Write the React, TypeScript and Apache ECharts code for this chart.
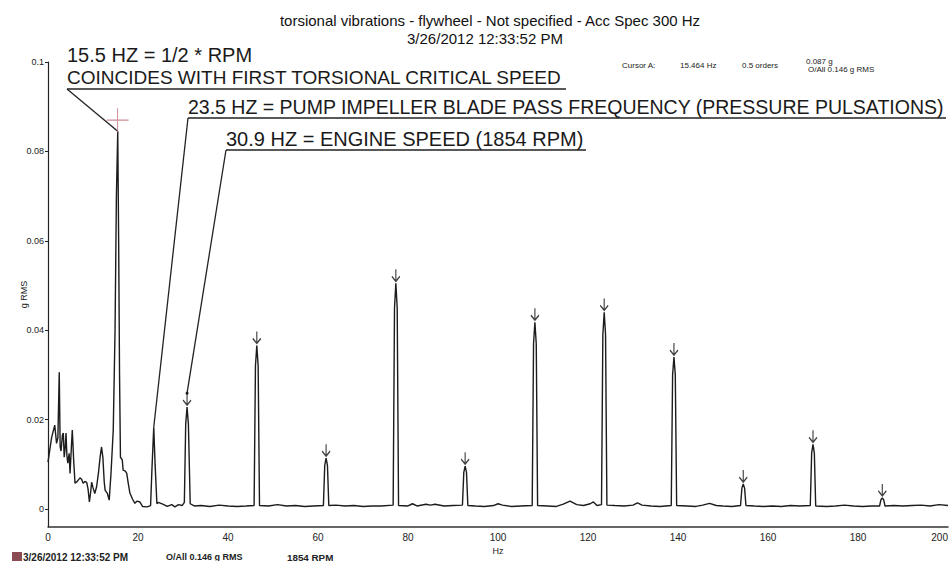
import React, { useEffect, useRef } from "react";
import * as echarts from "echarts";

// Spectrum (Hz, g RMS)
const freqs = [
  0, 0.8, 1.5, 1.9, 2.2, 2.5, 2.7, 2.9, 3.2, 3.4, 3.6, 3.8, 4.0, 4.2, 4.4, 4.7, 4.9, 5.2, 5.4, 5.7,
  6.0, 6.5, 7.1, 7.5, 7.8, 8.2, 8.6, 8.9, 9.2, 9.5, 9.7, 10.0, 10.4, 10.8, 11.2, 11.6, 11.9, 12.2, 12.5, 12.7,
  13.2, 13.6, 14.0, 14.5, 14.9, 15.2, 15.5, 15.7, 15.9, 16.1, 16.5, 16.7, 17.2, 17.5, 17.8, 18.2, 18.8, 19.3, 19.8, 20.4,
  21.0, 22.0, 22.8, 23.1, 23.5, 23.8, 24.2, 24.5, 25.5, 26.5, 27.5, 28.2, 29.0, 29.8, 30.3, 30.6, 30.9, 31.2, 31.6, 32.5,
  34, 36, 38, 40, 42, 44, 45.8, 46.1, 46.4, 46.7, 47.0, 49, 51, 53, 55, 57, 59, 61.2, 61.5, 61.8,
  62.1, 62.4, 64, 66, 68, 70, 72, 74, 76.7, 77.0, 77.3, 77.6, 77.9, 80, 81, 82, 84, 85, 86, 88,
  90, 92.1, 92.4, 92.7, 93.0, 93.3, 95, 97, 99, 100, 101, 103, 105, 107.6, 107.9, 108.2, 108.5, 108.8, 111, 113,
  114.5, 116, 117.5, 119, 120.5, 121.2, 122, 123.0, 123.3, 123.6, 123.9, 124.2, 126, 128, 130, 131, 132, 134, 136, 138.5,
  138.8, 139.1, 139.4, 139.7, 142, 144, 145.5, 147, 148.5, 150, 152, 153.9, 154.2, 154.5, 154.8, 155.1, 157, 159, 161, 163,
  165, 167, 169.4, 169.7, 170.0, 170.3, 170.6, 173, 175, 177, 179, 181, 183, 184.8, 185.1, 185.4, 185.7, 186.0, 188, 190,
  192, 194, 196, 198, 200,
];
const amps = [
  0.0105, 0.016, 0.0188, 0.0147, 0.016, 0.0306, 0.014, 0.013, 0.0165, 0.017, 0.0116, 0.0135, 0.017, 0.012, 0.0103, 0.0125, 0.008, 0.014, 0.0177, 0.011,
  0.0058, 0.0062, 0.007, 0.0066, 0.0058, 0.0062, 0.006, 0.0045, 0.0016, 0.004, 0.006, 0.0048, 0.0035, 0.005, 0.008, 0.0118, 0.0139, 0.0115, 0.006, 0.0042,
  0.0035, 0.002, 0.008, 0.0177, 0.04, 0.07, 0.0845, 0.06, 0.03, 0.0116, 0.011, 0.0087, 0.0085, 0.008, 0.006, 0.0036, 0.0022, 0.0013, 0.0018, 0.0016,
  0.0006, 0.0005, 0.0008, 0.009, 0.0183, 0.01, 0.0012, 0.0015, 0.0011, 0.0006, 0.001, 0.0005, 0.001, 0.0008, 0.0015, 0.019, 0.0228, 0.019, 0.0012, 0.0007,
  0.0008, 0.0006, 0.0009, 0.0007, 0.0006, 0.0007, 0.0008, 0.032, 0.0366, 0.032, 0.0008, 0.0007, 0.001, 0.0007, 0.0008, 0.0006, 0.0007, 0.0008, 0.0098, 0.0114,
  0.0098, 0.0008, 0.0009, 0.0007, 0.0008, 0.0006, 0.0007, 0.0007, 0.0009, 0.045, 0.0505, 0.045, 0.0008, 0.0007, 0.0012, 0.0007, 0.0011, 0.0009, 0.0011, 0.0007,
  0.0008, 0.0009, 0.0082, 0.0096, 0.0082, 0.0008, 0.0007, 0.0006, 0.0008, 0.0012, 0.0009, 0.0006, 0.0007, 0.0008, 0.037, 0.0418, 0.037, 0.0008, 0.0007, 0.0006,
  0.0011, 0.0018, 0.001, 0.0008, 0.0012, 0.0016, 0.0008, 0.001, 0.039, 0.044, 0.039, 0.0009, 0.0008, 0.0007, 0.0009, 0.0014, 0.0009, 0.0007, 0.0006, 0.0008,
  0.03, 0.034, 0.03, 0.0008, 0.0007, 0.0006, 0.0009, 0.0013, 0.0008, 0.0007, 0.0006, 0.0008, 0.0047, 0.0056, 0.0047, 0.0008, 0.0007, 0.0006, 0.0007, 0.0006,
  0.0008, 0.0007, 0.0008, 0.0125, 0.0145, 0.0125, 0.0007, 0.0006, 0.0007, 0.0009, 0.0007, 0.0006, 0.0007, 0.0007, 0.0021, 0.0025, 0.0021, 0.0007, 0.0008, 0.0007,
  0.0008, 0.0009, 0.0007, 0.001, 0.0008,
];

// Harmonics of engine speed marked with arrows
const harmonicHz = [30.9, 46.4, 61.8, 77.3, 92.7, 108.2, 123.6, 139.1, 154.5, 170.0, 185.4];
const harmonicAmp = [0.0228, 0.0366, 0.0114, 0.0505, 0.0096, 0.0418, 0.044, 0.034, 0.0056, 0.0145, 0.0025];

// Annotated peaks
const noteHz = [15.5, 23.5, 30.9];
const noteAmp = [0.0845, 0.0183, 0.0228];

const cursorHz = 15.464;
const cursorG = 0.087;

const yTicks = [0, 0.02, 0.04, 0.06, 0.08, 0.1];

const FONT = '"Liberation Sans", Arial, sans-serif';

export default function App() {
  const ref = useRef<HTMLDivElement>(null);
  useEffect(() => {
    if (!ref.current) return;
    const chart = echarts.init(ref.current, undefined, { renderer: "svg" });
    const line = freqs.map((f, i) => [f, amps[i]]);
    chart.setOption({
      animation: false,
      backgroundColor: "#ffffff",
      textStyle: { fontFamily: FONT },
      grid: { left: 48, right: 4, top: 62, bottom: 34, outerBoundsMode: "none", containLabel: false },
      xAxis: {
        type: "value",
        min: 0,
        max: 200,
        interval: 20,
        name: "Hz",
        nameLocation: "middle",
        nameGap: 12,
        nameTextStyle: { fontSize: 9, color: "#222", fontFamily: FONT },
        axisLine: { onZero: false, lineStyle: { color: "#333", width: 1.5 } },
        axisTick: { show: false },
        axisLabel: { fontSize: 10, color: "#222", margin: 5, fontFamily: FONT, alignMaxLabel: "right" },
        splitLine: { show: false },
      },
      yAxis: {
        type: "value",
        min: -0.004,
        max: 0.1,
        name: "g RMS",
        nameLocation: "middle",
        nameGap: 20,
        nameMoveOverlap: false,
        nameTextStyle: { fontSize: 9, color: "#222", fontFamily: FONT },
        axisLine: { show: true, lineStyle: { color: "#222", width: 1.2 } },
        axisTick: { show: true, length: 3, customValues: yTicks, lineStyle: { color: "#222" } },
        axisLabel: {
          customValues: yTicks,
          fontSize: 9,
          color: "#222",
          margin: 4,
          fontFamily: FONT,
          formatter: (v: number) => String(Math.round(v * 100) / 100),
        },
        splitLine: { show: false },
      },
      series: [
        {
          type: "line",
          data: line,
          symbol: "none",
          lineStyle: { color: "#1c1c1c", width: 1.4 },
          z: 2,
        },
        {
          type: "scatter",
          data: harmonicHz.map((f, i) => [f, harmonicAmp[i]]),
          symbol: "path://M4,0 L4,12 M0,7 L4,12 L8,7",
          symbolSize: [8, 12],
          symbolOffset: [0, -8],
          itemStyle: { color: "rgba(0,0,0,0)", borderColor: "#111", borderWidth: 1.4 },
          z: 3,
        },
        {
          type: "scatter",
          data: [[cursorHz, cursorG]],
          symbol: "path://M0,10 L20,10 M10,0 L10,20",
          symbolSize: [22, 24],
          itemStyle: { color: "rgba(0,0,0,0)", borderColor: "#c0707c", borderWidth: 1 },
          z: 4,
        },
      ],
    });

    const p = noteHz.map((f, i) => chart.convertToPixel({ gridIndex: 0 }, [f, noteAmp[i]]) as number[]);
    const big = { fontSize: 20, fontFamily: FONT, fill: "#1a1a1a" };
    const small = { fontSize: 8, fontFamily: FONT, fill: "#222" };
    const foot = { fontWeight: "bold", fontFamily: FONT, fill: "#222", verticalAlign: "middle" };
    chart.setOption({
      graphic: [
        { type: "text", x: 490, y: 20, style: { text: "torsional vibrations - flywheel - Not specified - Acc Spec 300 Hz", fontSize: 15, fontFamily: FONT, fill: "#111", align: "center", verticalAlign: "middle" } },
        { type: "text", x: 485, y: 38, style: { text: "3/26/2012 12:33:52 PM", fontSize: 15, fontFamily: FONT, fill: "#111", align: "center", verticalAlign: "middle" } },
        { type: "text", x: 67, y: 55, style: { ...big, text: "15.5 HZ = 1/2 * RPM", verticalAlign: "middle" } },
        { type: "text", x: 67, y: 77, style: { ...big, fontSize: 19, text: "COINCIDES WITH FIRST TORSIONAL CRITICAL SPEED", verticalAlign: "middle" } },
        { type: "line", shape: { x1: 67, y1: 89, x2: 566, y2: 89 }, style: { stroke: "#222", lineWidth: 1.5 } },
        { type: "line", shape: { x1: 67, y1: 89, x2: p[0][0], y2: p[0][1] }, style: { stroke: "#222", lineWidth: 1.3 } },
        { type: "text", x: 188, y: 107, style: { ...big, fontSize: 19.5, text: "23.5 HZ = PUMP IMPELLER BLADE PASS FREQUENCY (PRESSURE PULSATIONS)", verticalAlign: "middle" } },
        { type: "line", shape: { x1: 188, y1: 118, x2: 946, y2: 118 }, style: { stroke: "#222", lineWidth: 1.5 } },
        { type: "line", shape: { x1: 188, y1: 118, x2: p[1][0], y2: p[1][1] }, style: { stroke: "#222", lineWidth: 1.3 } },
        { type: "text", x: 226, y: 139, style: { ...big, text: "30.9 HZ = ENGINE SPEED (1854 RPM)", verticalAlign: "middle" } },
        { type: "line", shape: { x1: 226, y1: 150, x2: 586, y2: 150 }, style: { stroke: "#222", lineWidth: 1.5 } },
        { type: "line", shape: { x1: 226, y1: 150, x2: p[2][0], y2: p[2][1] - 14 }, style: { stroke: "#222", lineWidth: 1.3 } },
        { type: "circle", shape: { cx: p[2][0], cy: p[2][1] - 14, r: 1.5 }, style: { fill: "#222" } },
        { type: "text", x: 622, y: 65, style: { ...small, text: "Cursor A:", verticalAlign: "middle" } },
        { type: "text", x: 680, y: 65, style: { ...small, text: "15.464 Hz", verticalAlign: "middle" } },
        { type: "text", x: 742, y: 65, style: { ...small, text: "0.5 orders", verticalAlign: "middle" } },
        { type: "text", x: 806, y: 61, style: { ...small, text: "0.087 g", verticalAlign: "middle" } },
        { type: "text", x: 808, y: 69, style: { ...small, text: "O/All 0.146 g RMS", verticalAlign: "middle" } },
        { type: "rect", shape: { x: 12, y: 552, width: 10, height: 9 }, style: { fill: "#8a4b52" } },
        { type: "text", x: 23, y: 557, style: { ...foot, fontSize: 10, text: "3/26/2012 12:33:52 PM" } },
        { type: "text", x: 166, y: 557, style: { ...foot, fontSize: 9, text: "O/All 0.146 g RMS" } },
        { type: "text", x: 287, y: 557, style: { ...foot, fontSize: 9.8, text: "1854 RPM" } },
      ],
    });
    return () => chart.dispose();
  }, []);
  return <div ref={ref} style={{ position: "fixed", left: 0, top: 0, width: 952, height: 561 }} />;
}
